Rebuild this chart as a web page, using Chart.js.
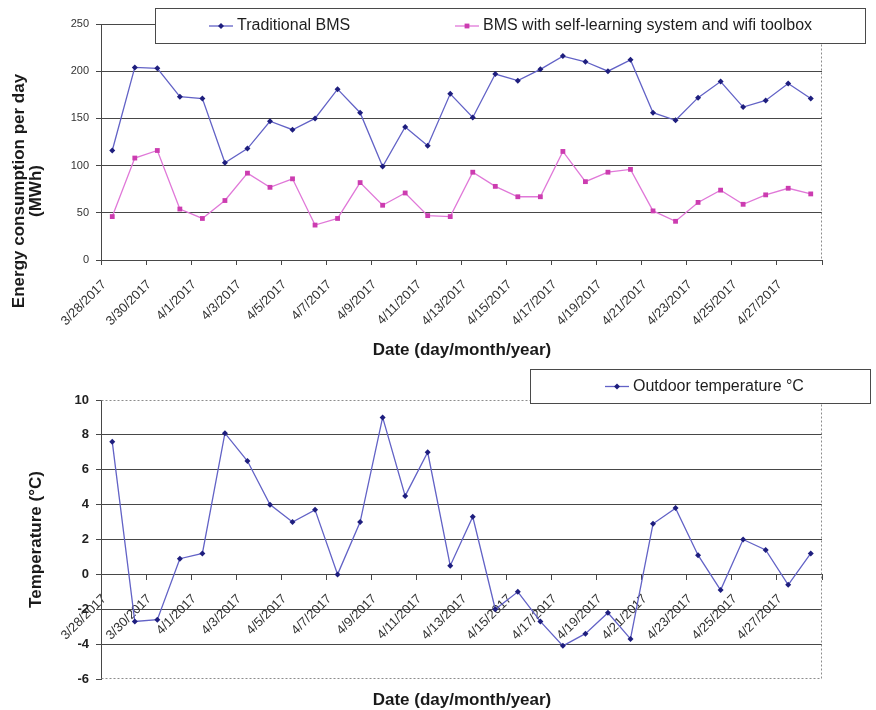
<!DOCTYPE html>
<html>
<head>
<meta charset="utf-8">
<title>Energy consumption and outdoor temperature</title>
<script src="https://cdn.jsdelivr.net/npm/chart.js@4"></script>
<style>
  html, body { margin: 0; padding: 0; background: #ffffff; }
  #wrap { position: relative; width: 876px; height: 710px; }
  #energy { position: absolute; left: 0; top: 0; }
  #temp { position: absolute; left: 0; top: 364px; }
</style>
</head>
<body>
<div id="wrap">
  <canvas id="energy" width="876" height="364"></canvas>
  <canvas id="temp" width="876" height="346"></canvas>
</div>
<script>
// ---- data ----
const dates = [
  '3/28/2017', '3/29/2017', '3/30/2017', '3/31/2017', '4/1/2017', '4/2/2017', '4/3/2017', '4/4/2017',
  '4/5/2017', '4/6/2017', '4/7/2017', '4/8/2017', '4/9/2017', '4/10/2017', '4/11/2017', '4/12/2017',
  '4/13/2017', '4/14/2017', '4/15/2017', '4/16/2017', '4/17/2017', '4/18/2017', '4/19/2017', '4/20/2017',
  '4/21/2017', '4/22/2017', '4/23/2017', '4/24/2017', '4/25/2017', '4/26/2017', '4/27/2017', '4/28/2017'
];

// daily energy consumption, MWh
const traditionalBMS = [
  116, 204, 203, 173, 171, 103, 118, 147, 138, 150, 181, 156, 99, 141, 121, 176,
  151, 197, 190, 202, 216, 210, 200, 212, 156, 148, 172, 189, 162, 169, 187, 171
];
const selfLearningBMS = [
  46, 108, 116, 54, 44, 63, 92, 77, 86, 37, 44, 82, 58, 71, 47, 46,
  93, 78, 67, 67, 115, 83, 93, 96, 52, 41, 61, 74, 59, 69, 76, 70
];

// daily outdoor temperature, °C
const outdoorTemp = [
  7.6, -2.7, -2.6, 0.9, 1.2, 8.1, 6.5, 4.0, 3.0, 3.7, 0, 3.0, 9.0, 4.5, 7.0, 0.5,
  3.3, -2.0, -1.0, -2.7, -4.1, -3.4, -2.2, -3.7, 2.9, 3.8, 1.1, -0.9, 2.0, 1.4, -0.6, 1.2
];

const seriesNames = ['Traditional BMS', 'BMS with self-learning system and wifi toolbox', 'Outdoor temperature °C'];
const energyTitle = ['Energy consumption per day', '(MWh)'];
const tempTitle = 'Temperature (°C)';
const dateTitle = 'Date (day/month/year)';

const energyScale = { min: 0, max: 250, step: 50 };
const tempScale = { min: -6, max: 10, step: 2 };

// ---- styling ----
const FONT = "'Liberation Sans', Arial, Helvetica, sans-serif";
Chart.defaults.font.family = FONT;
Chart.defaults.color = '#333';

const GRID = '#474747';
const AXIS = '#474747';
const NONE = 'rgba(0,0,0,0)';

// Every second date carries a label; tick marks sit on every second boundary.
const dateLabel = function (value, index) { return index % 2 === 0 ? dates[index] : ''; };
const dateTickColor = (c) => (c.index === undefined || c.index % 2 === 0) ? AXIS : NONE;

// Legend box, axis titles and dotted plot border, drawn over the chart.
const decor = {
  id: 'decor',
  beforeDatasetsDraw(chart, args, o) {
    const ctx = chart.ctx, a = chart.chartArea;
    const L = Math.round(a.left) + 0.5, R = Math.round(a.right) - 0.5;
    const T = Math.round(a.top) + 0.5, B = Math.round(a.bottom) - 0.5;
    ctx.save();
    ctx.strokeStyle = '#8c8c8c';
    ctx.lineWidth = 1;
    ctx.setLineDash([2, 2]);
    ctx.beginPath();
    (o.dotted || []).forEach(side => {
      if (side === 'right') { ctx.moveTo(R, T); ctx.lineTo(R, B); }
      if (side === 'top') { ctx.moveTo(L, T); ctx.lineTo(R, T); }
      if (side === 'bottom') { ctx.moveTo(L, B); ctx.lineTo(R, B); }
    });
    ctx.stroke();
    ctx.restore();
  },
  afterDraw(chart, args, o) {
    const ctx = chart.ctx;
    ctx.save();
    ctx.fillStyle = '#1a1a1a';
    ctx.font = 'bold 17px ' + FONT;
    ctx.textBaseline = 'alphabetic';
    ctx.textAlign = 'center';
    // horizontal title
    ctx.fillText(o.xTitle.text, o.xTitle.x, o.xTitle.y);
    // vertical title, one line per entry
    const lines = Array.isArray(o.yTitle.text) ? o.yTitle.text : [o.yTitle.text];
    lines.forEach((line, i) => {
      ctx.save();
      ctx.translate(o.yTitle.x[i], o.yTitle.y);
      ctx.rotate(-Math.PI / 2);
      ctx.fillText(line, 0, 0);
      ctx.restore();
    });
    // legend
    const lg = o.legend;
    ctx.fillStyle = '#ffffff';
    ctx.fillRect(lg.x, lg.y, lg.w, lg.h);
    ctx.strokeStyle = '#4a4a4a';
    ctx.lineWidth = 1;
    ctx.strokeRect(lg.x + 0.5, lg.y + 0.5, lg.w, lg.h);
    ctx.font = '16px ' + FONT;
    ctx.textAlign = 'left';
    ctx.textBaseline = 'middle';
    chart.data.datasets.forEach((ds, i) => {
      const x0 = lg.items[i], cy = lg.y + lg.h / 2 + 0.5;
      ctx.strokeStyle = ds.borderColor;
      ctx.lineWidth = 1.3;
      ctx.beginPath();
      ctx.moveTo(x0, cy);
      ctx.lineTo(x0 + 24, cy);
      ctx.stroke();
      ctx.fillStyle = ds.pointBackgroundColor;
      const mx = x0 + 12, r = ds.pointRadius;
      ctx.beginPath();
      if (ds.pointStyle === 'rect') {
        const s = r * Math.SQRT1_2;
        ctx.rect(mx - s, cy - s, 2 * s, 2 * s);
      } else {
        ctx.moveTo(mx, cy - r); ctx.lineTo(mx + r, cy); ctx.lineTo(mx, cy + r); ctx.lineTo(mx - r, cy);
        ctx.closePath();
      }
      ctx.fill();
      ctx.fillStyle = '#1e1e1e';
      ctx.fillText(ds.label, x0 + 28, cy);
    });
    ctx.restore();
  }
};

const xTicks = {
  autoSkip: false,
  minRotation: 45,
  maxRotation: 45,
  padding: 12,
  labelOffset: -8,
  color: '#333',
  font: { size: 13 },
  callback: dateLabel
};

// ---- energy consumption chart ----
new Chart(document.getElementById('energy'), {
  type: 'line',
  data: {
    labels: dates,
    datasets: [
      {
        label: seriesNames[0],
        data: traditionalBMS,
        borderColor: '#6262c6',
        backgroundColor: '#1e1e7e',
        pointBackgroundColor: '#1e1e7e',
        pointBorderColor: '#1e1e7e',
        pointStyle: 'rectRot',
        pointRadius: 3,
        pointBorderWidth: 0,
        borderWidth: 1.3,
        tension: 0
      },
      {
        label: seriesNames[1],
        data: selfLearningBMS,
        borderColor: '#e078d8',
        backgroundColor: '#cc3cb0',
        pointBackgroundColor: '#cc3cb0',
        pointBorderColor: '#cc3cb0',
        pointStyle: 'rect',
        pointRadius: 3.4,
        pointBorderWidth: 0,
        borderWidth: 1.3,
        tension: 0
      }
    ]
  },
  options: {
    responsive: false,
    animation: false,
    devicePixelRatio: 1,
    layout: { padding: { left: 0, right: 54, top: 24, bottom: 0 } },
    plugins: {
      legend: { display: false },
      tooltip: { enabled: false },
      decor: {
        dotted: ['right'],
        xTitle: { text: dateTitle, x: 462, y: 355 },
        yTitle: { text: energyTitle, x: [24, 40.5], y: 191 },
        legend: { x: 155, y: 8, w: 710, h: 35, items: [209, 455] }
      }
    },
    scales: {
      x: {
        type: 'category',
        offset: true,
        afterFit: (s) => { s.height = 104; },
        grid: { offset: true, drawOnChartArea: false, drawTicks: true, tickLength: 5, color: dateTickColor },
        border: { display: true, color: AXIS, width: 1 },
        ticks: xTicks
      },
      y: {
        min: energyScale.min,
        max: energyScale.max,
        afterFit: (s) => { s.width = 101; },
        grid: { color: GRID, lineWidth: 1, tickLength: 5, tickColor: AXIS },
        border: { display: true, color: AXIS, width: 1 },
        ticks: { stepSize: energyScale.step, padding: 7, color: '#333', font: { size: 11 } }
      }
    }
  },
  plugins: [decor]
});

// ---- outdoor temperature chart ----
new Chart(document.getElementById('temp'), {
  type: 'line',
  data: {
    labels: dates,
    datasets: [
      {
        label: seriesNames[2],
        data: outdoorTemp,
        borderColor: '#6262c6',
        backgroundColor: '#1e1e7e',
        pointBackgroundColor: '#1e1e7e',
        pointBorderColor: '#1e1e7e',
        pointStyle: 'rectRot',
        pointRadius: 3,
        pointBorderWidth: 0,
        borderWidth: 1.3,
        tension: 0
      }
    ]
  },
  options: {
    responsive: false,
    animation: false,
    devicePixelRatio: 1,
    layout: { padding: { left: 0, right: 54, top: 36, bottom: 31 } },
    plugins: {
      legend: { display: false },
      tooltip: { enabled: false },
      decor: {
        dotted: ['right', 'top', 'bottom'],
        xTitle: { text: dateTitle, x: 462, y: 341 },
        yTitle: { text: tempTitle, x: [41], y: 175.5 },
        legend: { x: 530, y: 5, w: 340, h: 34, items: [605] }
      }
    },
    scales: {
      x: {
        type: 'category',
        position: { y: 0 },
        offset: true,
        grid: { offset: true, drawOnChartArea: false, drawTicks: true, tickLength: 5, color: dateTickColor },
        border: { display: true, color: AXIS, width: 1 },
        ticks: xTicks
      },
      y: {
        min: tempScale.min,
        max: tempScale.max,
        afterFit: (s) => { s.width = 101; },
        grid: {
          color: (c) => (c.tick && (c.tick.value === tempScale.max || c.tick.value === tempScale.min)) ? NONE : GRID,
          lineWidth: 1,
          tickLength: 5,
          tickColor: AXIS
        },
        border: { display: true, color: AXIS, width: 1 },
        ticks: { stepSize: tempScale.step, padding: 7, color: '#222', font: { size: 13, weight: 'bold' } }
      }
    }
  },
  plugins: [decor]
});
</script>
</body>
</html>
